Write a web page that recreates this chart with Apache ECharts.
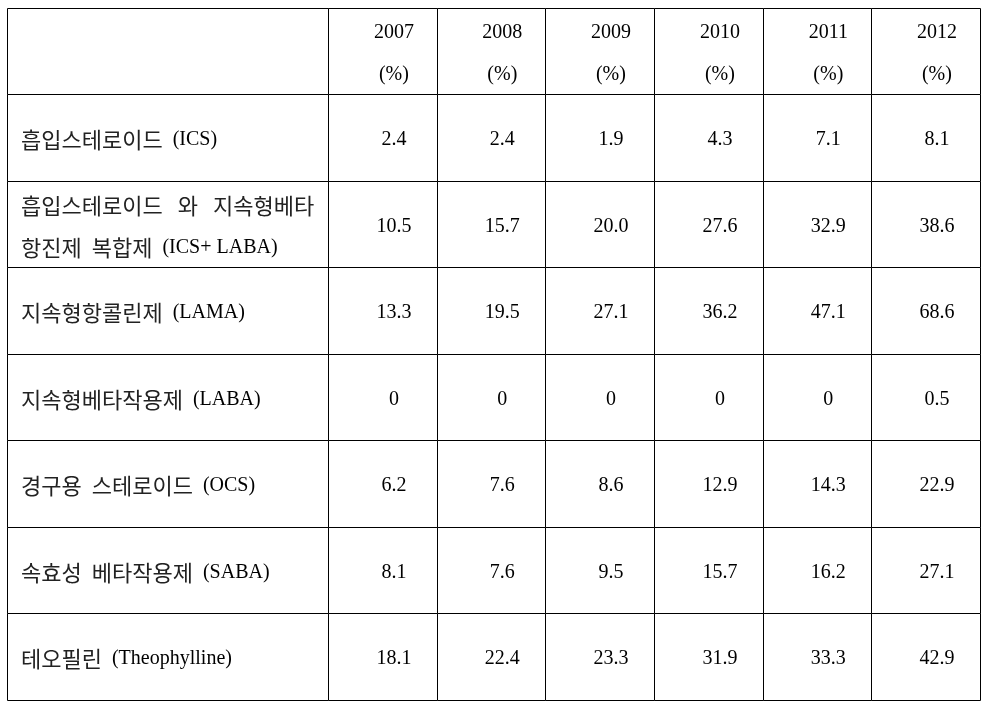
<!DOCTYPE html>
<html>
<head>
<meta charset="utf-8">
<script src="https://cdn.jsdelivr.net/npm/echarts@6/dist/echarts.min.js"></script>
<style>
html, body { margin: 0; padding: 0; background: #fff; }
#main { width: 998px; height: 712px; }
</style>
</head>
<body>
<div id="main"></div>
<script>
// 연도 (헤더)
var years = ['2007', '2008', '2009', '2010', '2011', '2012'];
var unitLabel = '(%)';
// 약제명 (행 라벨)
var drugs = [
    '흡입스테로이드  (ICS)',
    '흡입스테로이드   와   지속형베타\n항진제  복합제  (ICS+ LABA)',
    '지속형항콜린제  (LAMA)',
    '지속형베타작용제  (LABA)',
    '경구용  스테로이드  (OCS)',
    '속효성  베타작용제  (SABA)',
    '테오필린  (Theophylline)'
];
// 연도별 사용률 (%)
var icsValues      = [2.4, 2.4, 1.9, 4.3, 7.1, 8.1];
var icsLabaValues  = [10.5, 15.7, 20.0, 27.6, 32.9, 38.6];
var lamaValues     = [13.3, 19.5, 27.1, 36.2, 47.1, 68.6];
var labaValues     = [0, 0, 0, 0, 0, 0.5];
var ocsValues      = [6.2, 7.6, 8.6, 12.9, 14.3, 22.9];
var sabaValues     = [8.1, 7.6, 9.5, 15.7, 16.2, 27.1];
var theoValues     = [18.1, 22.4, 23.3, 31.9, 33.3, 42.9];

var valueRows = [icsValues, icsLabaValues, lamaValues, labaValues, ocsValues, sabaValues, theoValues];

// 첫 열 폭 (데이터 열 단위)
var LABEL_SPAN = 2.96;

var rowKeys = ['header'].concat(drugs);
var cells = [];
var cellText = [];

function fmt(v) {
    return v === 0 ? '0' : v.toFixed(1);
}

// 헤더 행
cells.push([-1, 0]);
cellText.push('');
years.forEach(function (y, i) {
    cells.push([i, 0]);
    cellText.push(y + '\n' + unitLabel);
});
// 데이터 행
drugs.forEach(function (d, r) {
    cells.push([-1, r + 1]);
    cellText.push(d.replace(/([\uAC00-\uD7A3]+)/g, '{k|$1}'));
    valueRows[r].forEach(function (v, i) {
        cells.push([i, r + 1]);
        cellText.push(fmt(v));
    });
});

var FONT = '20px "Liberation Serif", "Noto Sans CJK KR", serif';

var myChart = echarts.init(document.getElementById('main'));

var option = {
    animation: false,
    backgroundColor: '#fff',
    grid: {
        left: 6.5,
        right: 18,
        top: 8,
        bottom: 12.5
    },
    xAxis: {
        type: 'value',
        min: -LABEL_SPAN,
        max: years.length,
        show: false
    },
    yAxis: {
        type: 'category',
        data: rowKeys,
        inverse: true,
        show: false
    },
    series: [{
        type: 'custom',
        data: cells,
        renderItem: function (params, api) {
            var c = api.value(0);
            var r = api.value(1);
            var x0 = c < 0 ? -LABEL_SPAN : c;
            var x1 = c < 0 ? 0 : c + 1;
            var p0 = api.coord([x0, r]);
            var p1 = api.coord([x1, r]);
            var bandH = api.size([0, 1])[1];
            var left = Math.round(p0[0]) + 0.5;
            var right = Math.round(p1[0]) + 0.5;
            var top = Math.round(p0[1] - bandH / 2) + 0.5;
            var bottom = Math.round(p0[1] + bandH / 2) + 0.5;
            var w = right - left;
            var txt = cellText[params.dataIndex];
            var tx = c < 0 ? left + 13.5 : left + w * 0.6;
            return {
                type: 'group',
                children: [{
                    type: 'rect',
                    shape: { x: left, y: top, width: w, height: bottom - top },
                    style: { fill: '#fff', stroke: '#000', lineWidth: 1 }
                }, {
                    type: 'text',
                    style: {
                        text: txt,
                        x: tx,
                        y: (top + bottom) / 2 + 2,
                        fill: '#000',
                        font: FONT,
                        align: c < 0 ? 'left' : 'center',
                        verticalAlign: 'middle',
                        lineHeight: 42,
                        rich: {
                            k: {
                                fontFamily: '"Noto Sans CJK KR"',
                                fontSize: 22,
                                lineHeight: 42,
                                fill: '#222'
                            }
                        }
                    }
                }]
            };
        }
    }]
};

myChart.setOption(option);
</script>
</body>
</html>
